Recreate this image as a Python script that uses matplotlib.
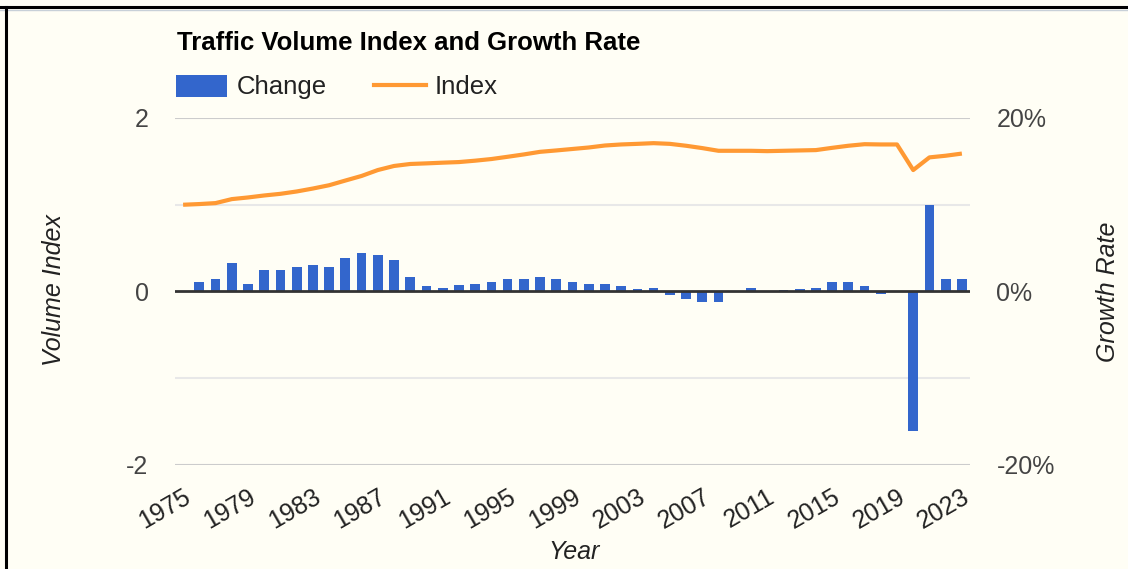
"""Traffic volume index (line) and yearly growth rate (bars), dual y axes."""

import matplotlib

matplotlib.use("Agg")
import matplotlib.pyplot as plt
import numpy as np
from matplotlib.lines import Line2D
from matplotlib.patches import Patch

plt.rcParams["font.family"] = ["Liberation Sans", "DejaVu Sans"]

years = list(range(1975, 2024))
index = [
    1.00, 1.008, 1.019, 1.065, 1.084, 1.107, 1.126, 1.153, 1.187, 1.225,
    1.279, 1.332, 1.400, 1.447, 1.470, 1.477, 1.485, 1.492, 1.508, 1.527,
    1.553, 1.580, 1.610, 1.626, 1.643, 1.660, 1.683, 1.695, 1.702, 1.710,
    1.702, 1.680, 1.653, 1.622, 1.622, 1.622, 1.618, 1.622, 1.626, 1.630,
    1.656, 1.680, 1.698, 1.695, 1.695, 1.400, 1.546, 1.565, 1.590,
]
# growth rate in percent, no value for the first year
change = [
    np.nan, 1.1, 1.4, 3.3, 0.9, 2.5, 2.5, 2.8, 3.1, 2.8,
    3.9, 4.4, 4.2, 3.6, 1.7, 0.65, 0.4, 0.7, 0.9, 1.1,
    1.4, 1.4, 1.7, 1.4, 1.1, 0.85, 0.9, 0.6, 0.25, 0.4,
    -0.4, -0.9, -1.25, -1.25, 0.0, 0.4, 0.0, 0.15, 0.3, 0.35,
    1.15, 1.15, 0.65, -0.25, 0.05, -16.1, 10.0, 1.45, 1.45,
]
year_ticks = list(range(1975, 2024, 4))
index_ticks = [-2, 0, 2]
rate_ticks = [-20, 0, 20]
rate_labels = ["-20%", "0%", "20%"]

BG = "#fffef5"
BLUE = "#3366cc"
ORANGE = "#ff9933"
W, H = 1128, 569

fig = plt.figure(figsize=(W / 100, H / 100), dpi=100, facecolor=BG)
rect = [175 / W, 1 - 465 / H, 795 / W, 347 / H]
ax2 = fig.add_axes(rect)  # growth rate, bars, right axis
ax = fig.add_axes(rect, sharex=ax2)  # index, line, left axis
ax.set_zorder(ax2.get_zorder() + 1)
ax.patch.set_visible(False)
ax2.set_facecolor(BG)
ax2.yaxis.tick_right()

for g, c in [(2, "#cccccc"), (1, "#e8e8e8"), (-1, "#e8e8e8"), (-2, "#cccccc")]:
    ax2.axhline(g * 10, color=c, lw=1.5, zorder=0)

ax2.bar(years, change, width=0.6, color=BLUE, zorder=2)
ax.axhline(0, color="#333333", lw=2, zorder=1)
ax.plot(years, index, color=ORANGE, lw=3, solid_joinstyle="round",
        solid_capstyle="butt", zorder=3)

ax.set_xlim(1974.5, 2023.5)
ax.set_ylim(-2, 2)
ax2.set_ylim(-20, 20)

ax.set_yticks(index_ticks)
ax.set_yticklabels([str(t) for t in index_ticks])
ax2.set_yticks(rate_ticks)
ax2.set_yticklabels(rate_labels)
ax.set_xticks(year_ticks)
ax.set_xticklabels([str(y) for y in year_ticks], rotation=30, ha="right",
                   va="top", rotation_mode="anchor")

ax.tick_params(axis="y", length=0, pad=19, labelsize=18, labelcolor="#444444")
ax2.tick_params(axis="y", length=0, pad=19, labelsize=18, labelcolor="#444444")
ax.tick_params(axis="x", length=0, pad=14, labelsize=18, labelcolor="#222222")
ax2.tick_params(axis="x", labelbottom=False, length=0)
for a in (ax, ax2):
    for s in a.spines.values():
        s.set_visible(False)

fig.text(177 / W, 1 - 50 / H, "Traffic Volume Index and Growth Rate",
         fontsize=18.5, fontweight="bold", color="black", va="baseline")
fig.text(54 / W, 1 - 290 / H, "Volume Index", rotation=90, style="italic",
         fontsize=18, color="#222222", ha="center", va="center")
fig.text(1108 / W, 1 - 292 / H, "Growth Rate", rotation=90, style="italic",
         fontsize=18, color="#222222", ha="center", va="center")
fig.text(574 / W, 1 - 552 / H, "Year", style="italic",
         fontsize=18, color="#222222", ha="center", va="center")

handles = [Patch(facecolor=BLUE, edgecolor="none"),
           Line2D([], [], color=ORANGE, lw=3)]
fig.legend(handles, ["Change", "Index"], loc="center left",
           bbox_to_anchor=(176 / W, 1 - 87 / H), bbox_transform=fig.transFigure,
           ncol=2, frameon=False, fontsize=18.5, handlelength=2.0,
           handleheight=0.95, handletextpad=0.36, columnspacing=1.85,
           borderpad=0, borderaxespad=0, labelcolor="#222222")

# screenshot frame
fig.add_artist(Line2D([0, 1], [1 - 7 / H] * 2, transform=fig.transFigure,
                      color="black", lw=2.2))
fig.add_artist(Line2D([0, 1], [1 - 10 / H] * 2, transform=fig.transFigure,
                      color="#c8d0d8", lw=1))
fig.add_artist(Line2D([6 / W] * 2, [0, 1 - 7 / H], transform=fig.transFigure,
                      color="black", lw=2.2))

fig.savefig("out.png", dpi=100, facecolor=BG)
